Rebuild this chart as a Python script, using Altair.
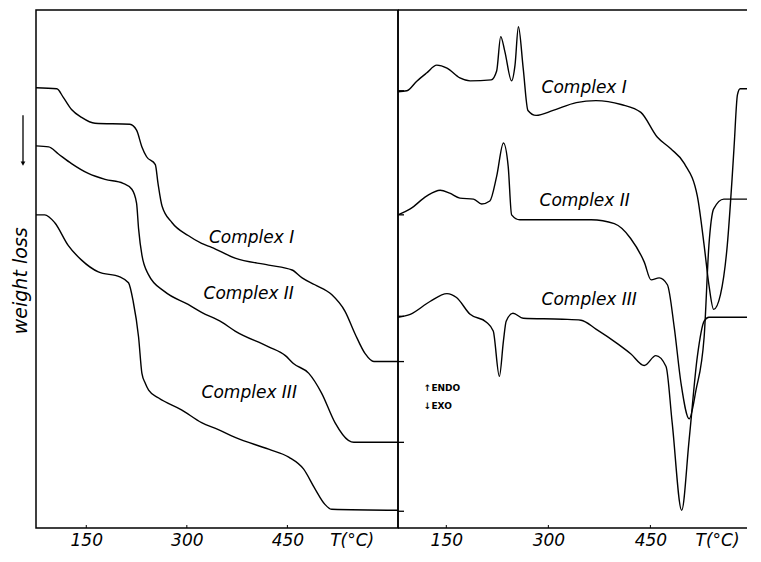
import altair as alt
import pandas as pd

# ---------------- TG curves (left panel) ----------------
tg1_T = [75, 106, 116, 128, 143, 163, 215, 225, 233, 240, 253, 257, 263, 278, 302, 322, 337, 372, 422, 457, 472, 491, 516, 536, 551, 566, 579, 615]
tg1_y = [447, 446, 437, 425, 417, 411, 410, 404, 387, 377, 369, 350, 327, 310, 297, 289, 285, 274, 267, 262, 254, 247, 237, 220, 197, 177, 169, 169]

tg2_T = [75, 94, 108, 128, 153, 178, 205, 218, 225, 228, 233, 243, 267, 302, 322, 352, 372, 422, 447, 459, 482, 501, 521, 541, 549, 615]
tg2_y = [388, 387, 380, 370, 360, 354, 350, 344, 330, 304, 277, 257, 240, 227, 219, 209, 200, 184, 175, 167, 157, 137, 107, 89, 87, 87]

tg3_T = [75, 88, 103, 123, 143, 168, 200, 213, 220, 228, 233, 238, 243, 258, 292, 322, 347, 372, 422, 452, 474, 491, 506, 516, 615]
tg3_y = [318, 318, 310, 287, 272, 260, 255, 249, 230, 194, 157, 147, 140, 132, 120, 107, 100, 92, 80, 72, 60, 40, 24, 19, 18]

# ---------------- DTA curves (right panel) ----------------
dta1_T = [79, 92, 107, 121, 136, 151, 170, 185, 216, 224, 230, 236, 246, 251, 256, 263, 270, 282, 307, 341, 370, 407, 436, 460, 480, 500, 519, 529, 536, 543, 553, 563, 570, 573, 578, 582, 592]
dta1_y = [443, 444, 454, 462, 470, 467, 457, 454, 455, 464, 499, 484, 454, 470, 509, 467, 424, 419, 424, 432, 434, 430, 422, 397, 385, 370, 337, 287, 247, 222, 237, 287, 354, 387, 440, 446, 446]

dta2_T = [79, 97, 121, 141, 155, 170, 190, 202, 214, 224, 234, 241, 246, 258, 363, 397, 421, 441, 451, 463, 475, 485, 495, 507, 517, 529, 536, 543, 558, 592]
dta2_y = [318, 324, 337, 343, 340, 335, 334, 329, 332, 357, 391, 367, 318, 313, 313, 309, 294, 270, 252, 254, 247, 204, 147, 111, 140, 194, 287, 324, 334, 334]

dta3_T = [79, 97, 126, 151, 165, 185, 209, 219, 228, 234, 238, 248, 263, 321, 348, 370, 402, 421, 441, 458, 473, 482, 496, 507, 519, 529, 536, 592]
dta3_y = [214, 217, 230, 238, 234, 217, 209, 200, 154, 190, 210, 218, 213, 212, 211, 202, 187, 177, 165, 175, 164, 107, 18, 90, 174, 210, 214, 214]

series_names = ["Complex I", "Complex II", "Complex III"]

# label positions
tg_label_T = [333, 325, 322]
tg_label_y = [294, 238, 137]
dta_label_T = [290, 287, 290]
dta_label_y = [447, 332, 232]

endo_text = ["\u2191ENDO", "\u2193EXO"]
endo_T = [117, 117]
endo_y = [142, 124]

ytitle_text = ["weight loss"]
ytitle_y = [251]
arrow_top = [419]
arrow_bottom = [370]

border_ticks = [444, 318, 215, 169, 87, 17]

tick_values_left = [150, 300, 450, 546]
tick_values_right = [150, 300, 450, 548]
small_ticks = [150, 300, 450]

FONT = "DejaVu Sans"
W_LEFT, W_RIGHT, H = 362, 349, 518


def long_df(Ts, ys):
    rows = []
    for name, T, y in zip(series_names, Ts, ys):
        for i, (t, v) in enumerate(zip(T, y)):
            rows.append({"series": name, "idx": i, "T": t, "y": v})
    return pd.DataFrame(rows)


tg_df = long_df([tg1_T, tg2_T, tg3_T], [tg1_y, tg2_y, tg3_y])
dta_df = long_df([dta1_T, dta2_T, dta3_T], [dta1_y, dta2_y, dta3_y])

yscale = alt.Scale(domain=[0, 526], nice=False, zero=False)
xscale_left = alt.Scale(domain=[75, 615], nice=False, zero=False)
xscale_right = alt.Scale(domain=[79, 592], nice=False, zero=False)


def xaxis(vals):
    last = vals[-1]
    return alt.Axis(
        values=vals,
        labelExpr=f"datum.value == {last} ? 'T(\u00b0C)' : datum.label",
        title=None, grid=False, ticks=False, domain=False,
        labelFont=FONT, labelFontStyle="italic", labelFontSize=17,
        labelColor="black", labelPadding=4, labelOverlap=False, labelFlush=False,
    )


# ---------------- left panel ----------------
left_lines = alt.Chart(tg_df).mark_line(color="black", strokeWidth=1.4, interpolate="monotone").encode(
    x=alt.X("T:Q", scale=xscale_left, axis=xaxis(tick_values_left)),
    y=alt.Y("y:Q", scale=yscale, axis=None),
    detail="series:N",
    order="idx:Q",
)

left_labels = alt.Chart(pd.DataFrame({"name": series_names, "T": tg_label_T, "y": tg_label_y})).mark_text(
    align="left", baseline="middle", font=FONT, fontStyle="italic", fontSize=17, color="black"
).encode(x=alt.X("T:Q", scale=xscale_left), y=alt.Y("y:Q", scale=yscale, axis=None), text="name:N")

ytitle = alt.Chart(pd.DataFrame({"t": ytitle_text, "y": ytitle_y})).mark_text(
    angle=270, align="center", baseline="middle", font=FONT, fontStyle="italic", fontSize=19, color="black"
).encode(x=alt.value(-15), y=alt.Y("y:Q", scale=yscale, axis=None), text="t:N")

arrow_df = pd.DataFrame({"top": arrow_top, "bottom": arrow_bottom})
arrow_line = alt.Chart(arrow_df).mark_rule(color="black", strokeWidth=1.3).encode(
    x=alt.value(-13), y=alt.Y("top:Q", scale=yscale, axis=None), y2="bottom:Q"
)
arrow_head = alt.Chart(arrow_df).mark_point(shape="triangle-down", filled=True, size=22, color="black", opacity=1).encode(
    x=alt.value(-13), y=alt.Y("bottom:Q", scale=yscale, axis=None)
)

left_ticks = alt.Chart(pd.DataFrame({"T": small_ticks})).mark_rule(color="black", strokeWidth=1).encode(
    x=alt.X("T:Q", scale=xscale_left), y=alt.value(H), y2=alt.value(H - 3)
)

left = alt.layer(left_lines, left_labels, ytitle, arrow_line, arrow_head, left_ticks).properties(width=W_LEFT, height=H)

# ---------------- right panel ----------------
right_lines = alt.Chart(dta_df).mark_line(color="black", strokeWidth=1.4, interpolate="monotone").encode(
    x=alt.X("T:Q", scale=xscale_right, axis=xaxis(tick_values_right)),
    y=alt.Y("y:Q", scale=yscale, axis=None),
    detail="series:N",
    order="idx:Q",
)

right_labels = alt.Chart(pd.DataFrame({"name": series_names, "T": dta_label_T, "y": dta_label_y})).mark_text(
    align="left", baseline="middle", font=FONT, fontStyle="italic", fontSize=17, color="black"
).encode(x=alt.X("T:Q", scale=xscale_right), y=alt.Y("y:Q", scale=yscale, axis=None), text="name:N")

endo = alt.Chart(pd.DataFrame({"t": endo_text, "T": endo_T, "y": endo_y})).mark_text(
    align="left", baseline="middle", font=FONT, fontSize=9, fontWeight="bold", color="black"
).encode(x=alt.X("T:Q", scale=xscale_right), y=alt.Y("y:Q", scale=yscale, axis=None), text="t:N")

frame_df = pd.DataFrame({"k": [0]})
top_rule = alt.Chart(frame_df).mark_rule(color="black", strokeWidth=1.5).encode(
    x=alt.value(0), x2=alt.value(W_RIGHT), y=alt.value(0)
)
bottom_rule = alt.Chart(frame_df).mark_rule(color="black", strokeWidth=1.5).encode(
    x=alt.value(0), x2=alt.value(W_RIGHT), y=alt.value(H)
)
left_rule = alt.Chart(frame_df).mark_rule(color="black", strokeWidth=1.5).encode(
    x=alt.value(0), y=alt.value(0), y2=alt.value(H)
)
ticks = alt.Chart(pd.DataFrame({"level": border_ticks})).mark_rule(color="black", strokeWidth=1.3).encode(
    x=alt.value(0), x2=alt.value(6), y=alt.Y("level:Q", scale=yscale, axis=None)
)
right_ticks = alt.Chart(pd.DataFrame({"T": small_ticks})).mark_rule(color="black", strokeWidth=1).encode(
    x=alt.X("T:Q", scale=xscale_right), y=alt.value(H), y2=alt.value(H - 3)
)

right = alt.layer(right_lines, right_labels, endo, top_rule, bottom_rule, left_rule, ticks, right_ticks).properties(
    width=W_RIGHT, height=H, view=alt.ViewBackground(stroke="transparent")
)

chart = alt.hconcat(left, right, spacing=0, bounds="flush").configure_view(
    stroke="black", strokeWidth=1.5
).properties(
    padding={"left": 3, "top": 0, "right": 0, "bottom": 0}, background="white"
)

chart.save("out.html", embed_options={"renderer": "svg", "actions": False})
